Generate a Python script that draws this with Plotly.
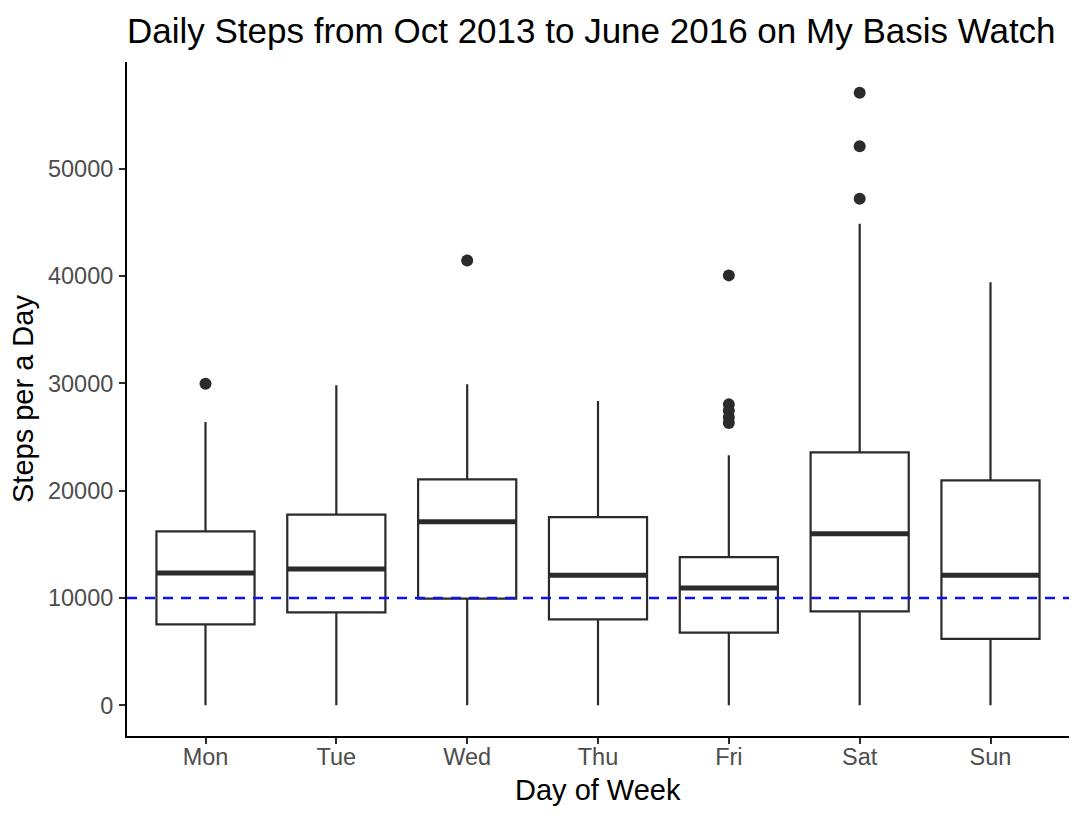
import plotly.graph_objects as go

days = ["Mon", "Tue", "Wed", "Thu", "Fri", "Sat", "Sun"]
q1 = [7550, 8670, 9940, 8010, 6770, 8760, 6200]
median = [12330, 12700, 17120, 12120, 10930, 16000, 12120]
q3 = [16220, 17770, 21060, 17550, 13820, 23580, 20970]
lower = [0, 0, 0, 0, 0, 0, 0]
upper = [26400, 29820, 29920, 28360, 23300, 44890, 39420]

outlier_day = ["Mon", "Wed", "Fri", "Fri", "Fri", "Fri", "Fri", "Sat", "Sat", "Sat"]
outlier_steps = [29980, 41450, 40070, 28050, 27450, 26850, 26310, 57100, 52100, 47220]

goal = 10000
yticks = [0, 10000, 20000, 30000, 40000, 50000]

FONT = "Liberation Sans, Arial, Helvetica, sans-serif"
DARK = "#2b2b2b"
BOXW = 0.75

# page body has an 8px default margin; figure is sized to fill the rest
W, H = 1076, 812
ML, MR, MT, MB = 119, 15, 54, 84
PW, PH = W - ML - MR, H - MT - MB

idx = list(range(len(days)))
fig = go.Figure()
fig.add_trace(go.Box(
    x=idx, q1=q1, median=median, q3=q3, lowerfence=lower, upperfence=upper,
    boxpoints=False, whiskerwidth=0, width=BOXW,
    fillcolor="white", line=dict(color=DARK, width=2.2), showlegend=False,
    hoverinfo="skip",
))

# thick median bars
mx, my = [], []
for i, m in zip(idx, median):
    mx += [i - BOXW / 2, i + BOXW / 2, None]
    my += [m, m, None]
fig.add_trace(go.Scatter(x=mx, y=my, mode="lines",
                         line=dict(color=DARK, width=5), showlegend=False,
                         hoverinfo="skip"))

ox = [days.index(d) for d in outlier_day]
fig.add_trace(go.Scatter(x=ox, y=outlier_steps, mode="markers",
                         marker=dict(color=DARK, size=12), showlegend=False))

fig.add_shape(type="line", xref="paper", x0=0, x1=1, yref="y", y0=goal, y1=goal,
              line=dict(color="#1010FF", width=2.4, dash="10px,8px"), layer="above")

ymax = max(outlier_steps + upper)
ymin = min(lower)
pad = 0.05 * (ymax - ymin)

fig.update_layout(
    width=W, height=H,
    margin=dict(l=ML, r=MR, t=MT, b=MB),
    paper_bgcolor="white", plot_bgcolor="white",
    font=dict(family=FONT, color="black"),
    title=dict(text="Daily Steps from Oct 2013 to June 2016 on My Basis Watch",
               x=0, xref="paper", xanchor="left",
               y=1 - 23 / H, yref="container", yanchor="middle",
               font=dict(size=35, color="black", family=FONT)),
    xaxis=dict(range=[-0.6, len(days) - 0.4], tickvals=idx, ticktext=days,
               showgrid=False, zeroline=False, showline=True,
               linecolor="black", linewidth=2,
               ticks="outside", ticklen=6, tickwidth=2, tickcolor=DARK,
               ticklabelstandoff=-7,
               tickfont=dict(size=23.5, color="#4D4D4D", family=FONT)),
    yaxis=dict(range=[ymin - pad, ymax + pad], tickvals=yticks,
               ticktext=[str(v) for v in yticks],
               showgrid=False, zeroline=False, showline=True,
               linecolor="black", linewidth=2,
               ticks="outside", ticklen=6, tickwidth=2, tickcolor=DARK,
               ticklabelstandoff=1,
               tickfont=dict(size=23.5, color="#4D4D4D", family=FONT)),
    annotations=[
        dict(text="Day of Week", xref="paper", yref="paper", x=0.5, y=-54 / PH,
             xanchor="center", yanchor="middle", showarrow=False,
             font=dict(size=29, color="black", family=FONT)),
        dict(text="Steps per a Day", xref="paper", yref="paper", x=-104 / PW, y=0.5,
             xanchor="center", yanchor="middle", textangle=-90, showarrow=False,
             font=dict(size=29, color="black", family=FONT)),
    ],
)

fig.write_html("out.html")
